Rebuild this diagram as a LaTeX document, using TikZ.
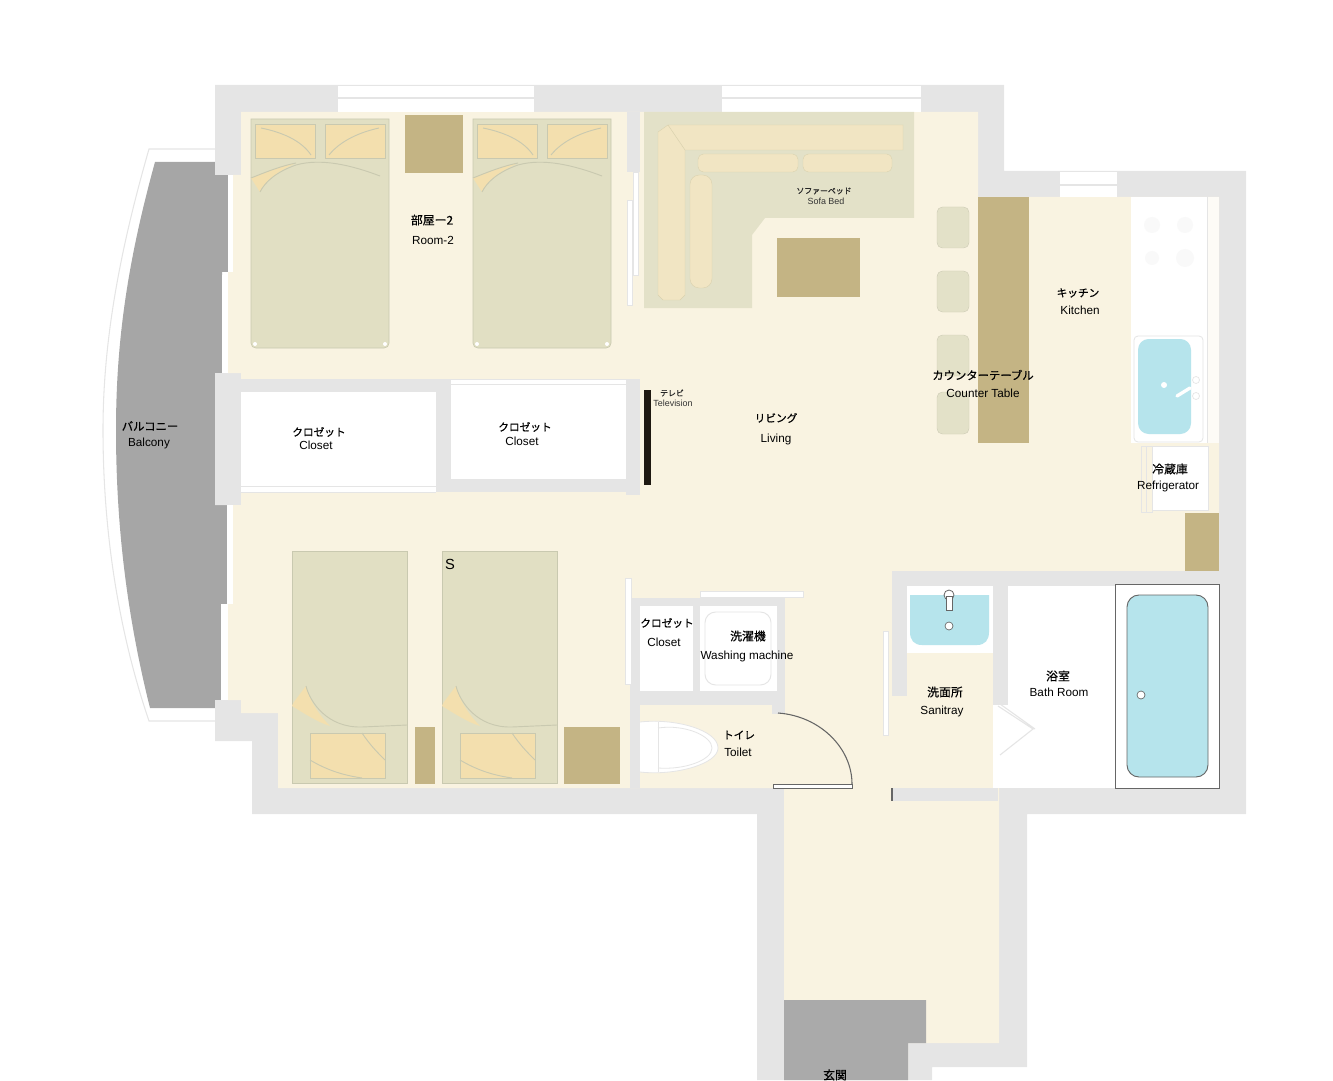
\documentclass[tikz,border=0pt]{standalone}
\usepackage{fontspec}
\setmainfont{Liberation Sans}
\newfontfamily\cjk[FakeBold=0.6]{Noto Sans CJK JP}
\definecolor{wallc}{HTML}{E5E5E5}
\definecolor{floorc}{HTML}{F9F3E1}
\definecolor{furn}{HTML}{C4B484}
\definecolor{bedc}{HTML}{E1DFC3}
\definecolor{pil}{HTML}{F3DFAE}
\definecolor{balc}{HTML}{A6A6A6}
\definecolor{water}{HTML}{B6E4EC}
\definecolor{stool}{HTML}{E3E1C8}
\definecolor{edgec}{HTML}{C9C9B0}
\definecolor{tvc}{HTML}{1E1810}
\definecolor{lineg}{HTML}{666666}
\tikzset{
  jp/.style={inner sep=0pt,font=\cjk\fontsize{8.9}{9}\selectfont,text=black},
  jpk/.style={inner sep=0pt,font=\cjk\fontsize{8}{9}\selectfont,text=black},
  jpw/.style={inner sep=0pt,font=\cjk\fontsize{8.5}{9}\selectfont,text=black},
  en/.style={inner sep=0pt,yshift=-.8pt,font=\fontsize{8.8}{9}\selectfont,text=black},
  jps/.style={inner sep=0pt,font=\cjk\fontsize{5.9}{6}\selectfont,text=black!85},
  ens/.style={inner sep=0pt,font=\fontsize{6.7}{7}\selectfont,text=black!80},
  bed/.style={fill=bedc,draw=edgec,line width=.5pt},
  pillow/.style={fill=pil,draw=edgec,line width=.4pt},
  fold/.style={draw=edgec,line width=.7pt},
  furniture/.style={fill=furn},
  seat/.style={fill=stool,draw=stool!90!black,line width=.3pt,rounded corners=4pt},
  cushion/.style={fill=pil!70!stool!70!floorc,draw=edgec!60!pil,line width=.3pt},
  thinpanel/.style={fill=white,draw=wallc,line width=.5pt},
}
\begin{document}
\begin{tikzpicture}[x=0.75pt,y=-0.75pt]
\useasboundingbox (0,0) rectangle (1333,1080);
% balcony outline and body
\draw[wallc,line width=.8pt] (215,149) -- (149,149) .. controls (120,250) and (103,340) .. (103,430) .. controls (103,530) and (118,630) .. (149,721) -- (215,721);
\fill[balc] (155,162) -- (215,162) -- (215,175) -- (228,175) -- (228,272) -- (222,272) -- (222,373) -- (215,373) -- (215,505) -- (227,505) -- (227,604) -- (221,604) -- (221,700) -- (215,700) -- (215,708) -- (150,708) .. controls (128,620) and (116,530) .. (116,430) .. controls (116,340) and (128,260) .. (155,162) -- cycle;
% walls
\fill[wallc] (215,85) -- (1004,85) -- (1004,171) -- (1246,171) -- (1246,814) -- (1027,814) -- (1027,1067) -- (932,1067) -- (932,1080) -- (757,1080) -- (757,814) -- (252,814) -- (252,741) -- (215,741) -- (215,700) -- (241,700) -- (241,505) -- (215,505) -- (215,373) -- (241,373) -- (241,175) -- (215,175) -- cycle;
% floor
\fill[floorc] (241,112) -- (978,112) -- (978,197) -- (1219,197) -- (1219,571) -- (999,571) -- (999,1043) -- (908,1043) -- (908,1080) -- (784,1080) -- (784,788) -- (278,788) -- (278,713) -- (241,713) -- (241,700) -- (228,700) -- (228,604) -- (233,604) -- (233,505) -- (241,505) -- (241,373) -- (228,373) -- (228,272) -- (233,272) -- (233,175) -- (241,175) -- cycle;
% window strips
\fill[white] (228,175) rectangle (233,272);
\fill[white] (222,275) rectangle (228,373);
\fill[white] (227,505) rectangle (233,604);
\fill[white] (221,604) rectangle (227,700);
\fill[white] (338,85) rectangle (534,112);
\draw[wallc,line width=.8pt] (338,98) -- (534,98) (338,85.5) -- (534,85.5);
\fill[white] (722,85) rectangle (921,112);
\draw[wallc,line width=.8pt] (722,98) -- (921,98) (722,85.5) -- (921,85.5);
\fill[white] (1060,171) rectangle (1117,197);
\draw[wallc,line width=.8pt] (1060,185) -- (1117,185) (1060,171.5) -- (1117,171.5);
% closets
\fill[wallc] (241,379) rectangle (640,492);
\fill[wallc] (626,379) rectangle (640,495);
\fill[white] (241,392) rectangle (436,492);
\fill[white] (451,380) rectangle (626,479);
\draw[wallc,line width=.6pt] (241,486) -- (436,486) (451,384) -- (626,384);
\draw[wallc,line width=.6pt] (241,492) -- (436,492);
% divider with sliding door
\fill[wallc] (627,112) rectangle (640,172);
\draw[thinpanel] (633,172) rectangle (638,275);
\draw[thinpanel] (627,200) rectangle (632,305);
% upper beds
\foreach \bx in {251,473}{
  \draw[bed] (\bx,119) -- (\bx+138,119) -- (\bx+138,343) .. controls (\bx+138,346) and (\bx+136,348) .. (\bx+133,348) -- (\bx+5,348) .. controls (\bx+2,348) and (\bx,346) .. (\bx,343) -- cycle;
  \fill[white] (\bx+4,344) circle (2) (\bx+134,344) circle (2);
  \draw[pillow] (\bx+4,124) rectangle (\bx+64,158);
  \draw[pillow] (\bx+74,124) rectangle (\bx+134,158);
  \fill[pil] (\bx,178) .. controls (\bx+15,172) and (\bx+30,166) .. (\bx+45,163) .. controls (\bx+25,172) and (\bx+14,182) .. (\bx+9,192) -- cycle;
  \draw[fold] (\bx,178) .. controls (\bx+15,172) and (\bx+30,166) .. (\bx+45,163);
  \draw[fold] (\bx+9,192) .. controls (\bx+14,182) and (\bx+25,172) .. (\bx+45,165) .. controls (\bx+70,158) and (\bx+100,165) .. (\bx+129,176);
  \draw[fold] (\bx+10,128) .. controls (\bx+30,132) and (\bx+50,140) .. (\bx+60,155);
  \draw[fold] (\bx+128,128) .. controls (\bx+110,132) and (\bx+90,140) .. (\bx+78,155);
}
\fill[furniture] (405,115) rectangle (463,173);
% sofa
\fill[stool] (644,112) -- (914,112) -- (914,218) -- (765,218) -- (752,235) -- (752,308) -- (644,308) -- cycle;
\draw[cushion] (668,125) -- (903,125) -- (903,150) -- (685,150) -- (685,295) -- (680,300) -- (663,300) -- (658,295) -- (658,132) -- cycle;
\draw[edgec!60!pil,line width=.4pt] (668,125) -- (685,150);
\draw[cushion,rounded corners=4pt] (698,154) rectangle (798,172);
\draw[cushion,rounded corners=4pt] (803,154) rectangle (892,172);
\draw[cushion,rounded corners=7pt] (690,175) rectangle (712,288);
\fill[furniture] (777,238) rectangle (860,297);
% counter and stools
\foreach \sy/\ey in {207/248,271/312,335/376,392/434}{
  \draw[seat] (937,\sy) rectangle (969,\ey);
}
\fill[furniture] (978,197) rectangle (1029,443);
% kitchen
\fill[white] (1131,197) rectangle (1207,443);
\fill[floorc!30!white] (1207,197) rectangle (1219,443);
\draw[wallc,line width=.5pt] (1207,197) -- (1207,443);
\foreach \cx/\cy/\cr in {1152/225/8,1185/225/8,1152/258/7,1185/258/9}{
  \fill[wallc!22!white] (\cx,\cy) circle (\cr);
}
\draw[wallc,fill=white,line width=.6pt,rounded corners=3pt] (1134,336) rectangle (1203,442);
\fill[water,rounded corners=8pt] (1138,339) rectangle (1191,434);
\fill[white] (1164,385) circle (3);
\draw[white,line width=2.5pt,line cap=round] (1177,396) -- (1190,388);
\draw[wallc,line width=.5pt] (1196,380) circle (3.5) (1196,396) circle (3.5);
% refrigerator
\draw[wallc,fill=white,line width=.6pt] (1152,446) rectangle (1208,510);
\draw[wallc,line width=.6pt] (1141,446) rectangle (1152,512) (1146,446) -- (1146,512);
\fill[furniture] (1185,513) rectangle (1219,571);
% television
\fill[tvc] (644,390) rectangle (651,485);
% lower beds
\foreach \bx in {292,442}{
  \draw[bed] (\bx,551) rectangle (\bx+115,783);
  \fill[pil] (\bx+14,686) .. controls (\bx+5,698) and (\bx,704) .. (\bx,706) .. controls (\bx+10,712) and (\bx+25,722) .. (\bx+38,726) .. controls (\bx+28,716) and (\bx+18,702) .. (\bx+14,686) -- cycle;
  \draw[fold] (\bx+14,686) .. controls (\bx+18,702) and (\bx+35,728) .. (\bx+70,727) -- (\bx+115,725);
  \draw[pillow] (\bx+18,733) rectangle (\bx+93,778);
  \draw[fold] (\bx+18,760) .. controls (\bx+35,770) and (\bx+50,775) .. (\bx+70,778);
  \draw[fold] (\bx+70,733) .. controls (\bx+78,745) and (\bx+85,752) .. (\bx+93,760);
}
\fill[furniture] (415,727) rectangle (435,784);
\fill[furniture] (564,727) rectangle (620,784);
\node[inner sep=0pt,font=\fontsize{11}{11}\selectfont] (labelS) at (450,564) {S};
% closet, washer, toilet block
\fill[wallc] (631,598) rectangle (785,705);
\fill[wallc] (772,705) rectangle (785,714);
\fill[wallc] (630,598) rectangle (640,788);
\fill[white] (640,606) rectangle (693,691);
\fill[white] (700,606) rectangle (777,691);
\draw[wallc,line width=.7pt,rounded corners=8pt] (705,612) rectangle (771,685);
\draw[thinpanel] (625,578) rectangle (631,684);
\draw[thinpanel] (700,591) rectangle (803,597);
\fill[floorc] (640,705) rectangle (772,788);
\fill[white] (640,722) .. controls (675,718) and (718,730) .. (718,748) .. controls (718,764) and (675,776) .. (640,772) -- cycle;
\draw[wallc,line width=.6pt] (640,722) .. controls (675,718) and (718,730) .. (718,748) .. controls (718,764) and (675,776) .. (640,772);
\draw[wallc,line width=.6pt] (658,722) -- (658,772);
\draw[wallc,line width=.6pt] (658,728) .. controls (685,724) and (712,736) .. (712,748) .. controls (712,760) and (685,770) .. (658,768);
% door
\draw[lineg,line width=.8pt] (778,713) .. controls (820,716) and (852,748) .. (852,784);
\draw[lineg,fill=white,line width=.6pt] (773,784) rectangle (852,788);
% bath and sanitary
\fill[floorc] (892,571) rectangle (993,788);
\fill[wallc] (892,571) rectangle (1219,586);
\fill[wallc] (892,571) rectangle (907,696);
\draw[thinpanel] (883,631) rectangle (888,735);
\fill[white] (907,586) rectangle (993,653);
\fill[water] (910,595) -- (989,595) -- (989,632) .. controls (989,640) and (985,645) .. (977,645) -- (922,645) .. controls (914,645) and (910,640) .. (910,632) -- cycle;
\fill[wallc] (993,586) rectangle (1008,705);
\fill[white] (1008,586) rectangle (1115,788);
\fill[white] (993,705) rectangle (1008,788);
\draw[wallc,line width=.8pt] (998,706) -- (1033,729) -- (1000,755) (1000,704) -- (1035,729);
\draw[lineg,fill=white,line width=.6pt] (949,595) circle (5);
\draw[lineg,fill=white,line width=.6pt] (946,596) rectangle (952,610);
\draw[lineg,fill=white,line width=.5pt] (949,626) circle (4);
\draw[lineg,fill=white,line width=.7pt] (1115,584) rectangle (1219,788);
\draw[lineg,fill=water,line width=.7pt,rounded corners=9pt] (1127,595) rectangle (1208,777);
\draw[lineg,fill=white,line width=.5pt] (1141,695) circle (4);
\fill[wallc] (892,788) rectangle (998,801);
\draw[lineg,line width=.8pt] (892,788) -- (892,801);
% entrance
\fill[balc!95!white] (784,1000) -- (926,1000) -- (926,1043) -- (908,1043) -- (908,1080) -- (784,1080) -- cycle;
% labels
\node[jp] (t1a) at (432,220) {部屋ー2};
\node[en] (t1b) at (433,239) {Room-2};
\node[jps] (t2a) at (824,191) {ソファーベッド};
\node[ens] (t2b) at (826,201) {Sofa Bed};
\node[jpk] (t3a) at (1078,293) {キッチン};
\node[en] (t3b) at (1080,309) {Kitchen};
\node[jpw] (t4a) at (983,375) {カウンターテーブル};
\node[en] (t4b) at (983,392) {Counter Table};
\node[jps] (t5a) at (672,393) {テレビ};
\node[ens] (t5b) at (673,403) {Television};
\node[jpk] (t6a) at (776,418) {リビング};
\node[en] (t6b) at (776,438) {Living};
\node[jp] (t7a) at (1170,469) {冷蔵庫};
\node[en] (t7b) at (1168,485) {Refrigerator};
\node[jpw] (t8a) at (150,426) {バルコニー};
\node[en] (t8b) at (149,442) {Balcony};
\node[jpk] (t9a) at (319,432) {クロゼット};
\node[en] (t9b) at (316,444) {Closet};
\node[jpk] (t10a) at (525,427) {クロゼット};
\node[en] (t10b) at (522,440) {Closet};
\node[jpk] (t11a) at (667,623) {クロゼット};
\node[en] (t11b) at (664,641) {Closet};
\node[jp] (t12a) at (748,636) {洗濯機};
\node[en] (t12b) at (747,655) {Washing machine};
\node[jpk] (t13a) at (739,735) {トイレ};
\node[en] (t13b) at (738,751) {Toilet};
\node[jp] (t14a) at (945,692) {洗面所};
\node[en] (t14b) at (942,710) {Sanitray};
\node[jp] (t15a) at (1058,676) {浴室};
\node[en] (t15b) at (1059,691) {Bath Room};
\node[jp] (t16a) at (835,1075) {玄関};
\end{tikzpicture}
\end{document}
